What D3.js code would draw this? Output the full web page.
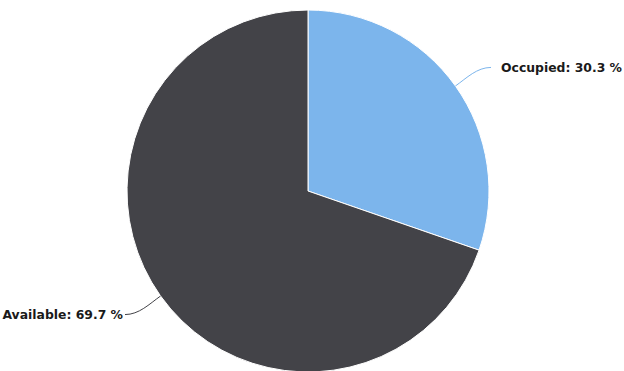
<!DOCTYPE html>
<meta charset="utf-8">
<style>
  body { margin: 0; background: #fff; }
  .label { font: bold 12.4px "DejaVu Sans", sans-serif; fill: #1a1a1a; }
</style>
<body>
<script src="https://cdn.jsdelivr.net/npm/d3@7"></script>
<script>

  var labels = ["Occupied", "Available"];
  var values = [30.3, 69.7];
  var colors = ["#7cb5ec", "#434348"];

  var width = 624, height = 371;
  var cx = 308, cy = 191, r = 181;

  var svg = d3.select("body").append("svg")
    .attr("width", width)
    .attr("height", height);

  var pie = d3.pie().sort(null)(values);

  var arc = d3.arc().innerRadius(0).outerRadius(r);

  var g = svg.append("g")
    .attr("transform", "translate(" + cx + "," + cy + ")");

  g.selectAll("path.slice")
    .data(pie)
    .enter().append("path")
    .attr("class", "slice")
    .attr("d", arc)
    .attr("fill", function(d, i) { return colors[i]; })
    .attr("stroke", "#fff")
    .attr("stroke-width", 1);

  // Connectors and labels, placed like the data labels in the picture.
  pie.forEach(function(d, i) {
    var a = (d.startAngle + d.endAngle) / 2;
    var right = Math.sin(a) > 0;
    var sx = r * Math.sin(a), sy = -r * Math.cos(a);
    var ey = -(r + 32) * Math.cos(a);
    var ex = right ? r + 2 : -(r + 2);
    var c1x = (r + 14) * Math.sin(a), c1y = -(r + 14) * Math.cos(a);
    var c2x = ex + (right ? -14 : 14), c2y = ey;

    g.append("path")
      .attr("d", "M" + sx + "," + sy + "C" + c1x + "," + c1y + " " + c2x + "," + c2y + " " + ex + "," + ey)
      .attr("fill", "none")
      .attr("stroke", colors[i])
      .attr("stroke-width", 1);

    g.append("text")
      .attr("class", "label")
      .attr("x", right ? ex + 10 : ex - 2)
      .attr("y", ey)
      .attr("dy", "0.35em")
      .attr("text-anchor", right ? "start" : "end")
      .text(labels[i] + ": " + values[i] + " %");
  });

</script>
